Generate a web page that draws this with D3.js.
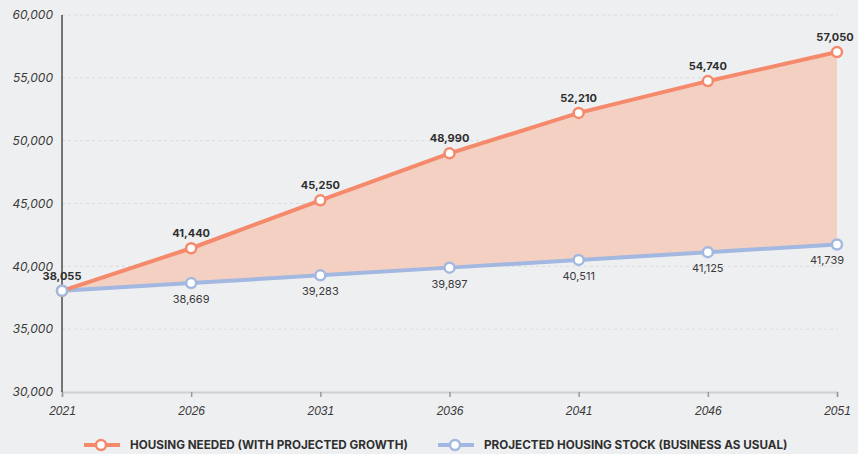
<!DOCTYPE html>
<html lang="en">
<head>
<meta charset="utf-8">
<title>Housing needed vs projected stock</title>
<script src="https://cdn.jsdelivr.net/npm/d3@7"></script>
<style>
  body { margin: 0; background: #eeeff1; }
  svg { display: block; font-family: Inter, "Open Sans", sans-serif; }
  .ytick text, .xtick text { font-style: italic; font-size: 12px; fill: #3a3a3a; }
</style>
</head>
<body>
<script>
// data
var years = [2021, 2026, 2031, 2036, 2041, 2046, 2051];
var needed = [38055, 41440, 45250, 48990, 52210, 54740, 57050];
var stock = [38055, 38669, 39283, 39897, 40511, 41125, 41739];
var yTicks = [30000, 35000, 40000, 45000, 50000, 55000, 60000];
var legendLabels = ["HOUSING NEEDED (WITH PROJECTED GROWTH)", "PROJECTED HOUSING STOCK (BUSINESS AS USUAL)"];

var orange = "#f4896b", orangeFill = "#f4d0c3", blue = "#a3b8e0";
var W = 858, H = 454;
var margin = {top: 15, right: 21, bottom: 62, left: 62};

var svg = d3.select("body").append("svg")
  .attr("width", W).attr("height", H);

svg.append("rect").attr("width", W).attr("height", H).attr("fill", "#eeeff1");

var x = d3.scaleLinear().domain([2021, 2051]).range([margin.left, W - margin.right]);
var y = d3.scaleLinear().domain([30000, 60000]).range([H - margin.bottom, margin.top]);

// gridlines
svg.append("g").selectAll("line")
  .data(yTicks.slice(1))
  .enter().append("line")
  .attr("x1", x(2021)).attr("x2", x(2051))
  .attr("y1", function(d) { return y(d); })
  .attr("y2", function(d) { return y(d); })
  .attr("stroke", "#d9d9dc")
  .attr("stroke-dasharray", "3,3");

// y labels
var yg = svg.append("g").attr("class", "ytick");
yg.selectAll("text")
  .data(yTicks)
  .enter().append("text")
  .attr("x", 53)
  .attr("y", function(d) { return y(d); })
  .attr("dy", "0.35em")
  .attr("text-anchor", "end")
  .text(function(d) { return d3.format(",")(d); });

// x axis
var xAxis = d3.axisBottom(x).tickValues(years).tickFormat(d3.format("d")).tickSize(5).tickPadding(9);
var xg = svg.append("g")
  .attr("class", "xtick")
  .attr("transform", "translate(0," + y(30000) + ")")
  .call(xAxis);
xg.select(".domain").attr("stroke", "#cfd0d3").attr("stroke-width", 2);
xg.selectAll(".tick line").attr("stroke", "#9a9a9a").attr("stroke-width", 1.5);
xg.selectAll(".tick text").attr("fill", "#3a3a3a").style("font-size", "12px").style("font-style", "italic");

// y axis line
svg.append("line")
  .attr("x1", margin.left).attr("x2", margin.left)
  .attr("y1", y(60000)).attr("y2", y(30000))
  .attr("stroke", "#222").attr("stroke-width", 1.2);

// area between series
var area = d3.area()
  .x(function(d, i) { return x(years[i]); })
  .y0(function(d, i) { return y(stock[i]); })
  .y1(function(d) { return y(d); });
svg.append("path").datum(needed).attr("d", area).attr("fill", orangeFill);

var line = d3.line()
  .x(function(d, i) { return x(years[i]); })
  .y(function(d) { return y(d); });

svg.append("path").datum(stock).attr("d", line)
  .attr("fill", "none").attr("stroke", blue).attr("stroke-width", 4);
svg.append("path").datum(needed).attr("d", line)
  .attr("fill", "none").attr("stroke", orange).attr("stroke-width", 4);

// points
svg.append("g").selectAll("circle")
  .data(needed).enter().append("circle")
  .attr("cx", function(d, i) { return x(years[i]); })
  .attr("cy", function(d) { return y(d); })
  .attr("r", 5).attr("fill", "#fff")
  .attr("stroke", orange).attr("stroke-width", 2.5);

svg.append("g").selectAll("circle")
  .data(stock).enter().append("circle")
  .attr("cx", function(d, i) { return x(years[i]); })
  .attr("cy", function(d) { return y(d); })
  .attr("r", 5).attr("fill", "#fff")
  .attr("stroke", blue).attr("stroke-width", 2.5);

// labels
svg.append("g").selectAll("text")
  .data(needed).enter().append("text")
  .attr("x", function(d, i) { return x(years[i]) + (i == 6 ? -2 : 0); })
  .attr("y", function(d) { return y(d) - 11; })
  .attr("text-anchor", "middle")
  .attr("font-size", "11px").attr("font-weight", "bold").attr("fill", "#2f2f2f")
  .text(function(d) { return d3.format(",")(d); });

svg.append("g").selectAll("text")
  .data(stock).enter().append("text")
  .filter(function(d, i) { return i > 0; })
  .attr("x", function(d) { var i = stock.indexOf(d); return x(years[i]) + (i == 6 ? -10 : 0); })
  .attr("y", function(d) { return y(d) + 20; })
  .attr("text-anchor", "middle")
  .attr("font-size", "11px").attr("fill", "#3a3a3a")
  .text(function(d) { return d3.format(",")(d); });

// legend
var legendX = [84, 438];
var legendColors = [orange, blue];
var lg = svg.append("g").selectAll("g")
  .data(legendLabels).enter().append("g")
  .attr("transform", function(d, i) { return "translate(" + legendX[i] + ",445)"; });
lg.append("line").attr("x1", 0).attr("x2", 36)
  .attr("stroke", function(d, i) { return legendColors[i]; }).attr("stroke-width", 4);
lg.append("circle").attr("cx", 17).attr("r", 5).attr("fill", "#fff")
  .attr("stroke", function(d, i) { return legendColors[i]; }).attr("stroke-width", 2.5);
lg.append("text").attr("x", 46).attr("dy", "0.35em")
  .attr("font-size", "11.7px").attr("font-weight", "bold").attr("fill", "#2f2f2f")
  .text(function(d) { return d; });
</script>
</body>
</html>
